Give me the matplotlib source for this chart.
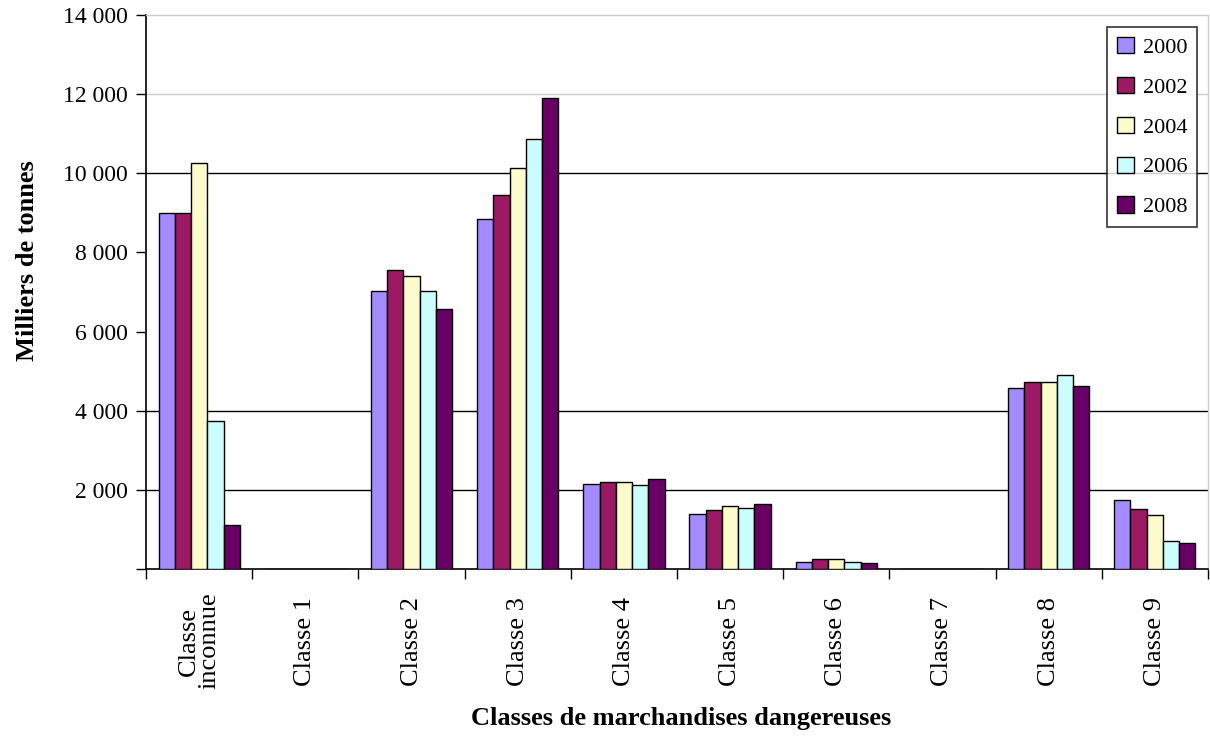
import numpy as np
import matplotlib.pyplot as plt
from matplotlib.ticker import FuncFormatter

plt.rcParams['font.family'] = ['Liberation Serif', 'DejaVu Serif']

# Data (milliers de tonnes)
categories = ["Classe\ninconnue", "Classe 1", "Classe 2", "Classe 3", "Classe 4",
              "Classe 5", "Classe 6", "Classe 7", "Classe 8", "Classe 9"]
years = ["2000", "2002", "2004", "2006", "2008"]
v2000 = [9000, 0, 7020, 8850, 2150, 1390, 180, 0, 4560, 1750]
v2002 = [9000, 0, 7550, 9450, 2200, 1490, 240, 0, 4730, 1520]
v2004 = [10250, 0, 7400, 10140, 2200, 1580, 240, 0, 4730, 1370]
v2006 = [3730, 0, 7020, 10860, 2130, 1530, 180, 0, 4890, 700]
v2008 = [1110, 0, 6580, 11890, 2260, 1640, 140, 0, 4630, 650]
series = [v2000, v2002, v2004, v2006, v2008]
colors = ['#A48BFF', '#9C1A64', '#FBFBCC', '#CCFDFD', '#690066']

fig = plt.figure(figsize=(12.1, 7.46), dpi=100)
ax = fig.add_axes([0.1207, 0.2374, 0.8776, 0.7425])

x = np.arange(len(categories))
bw = 0.153
for i, (vals, col, yr) in enumerate(zip(series, colors, years)):
    ax.bar(x + (i - 2) * bw, vals, width=bw, color=col, edgecolor='black',
           linewidth=1.0, label=yr, zorder=3)

# gridlines as they appear in the picture
for g in [2000, 4000, 10000]:
    ax.axhline(g, color='black', linewidth=1.0, zorder=1)
ax.axhline(12000, color='#cccccc', linewidth=1.0, zorder=1)

ax.set_xlim(-0.5, len(categories) - 0.5)
ax.set_ylim(0, 14000)
ax.set_yticks(np.arange(0, 14001, 2000))
ax.yaxis.set_major_formatter(FuncFormatter(
    lambda v, p: "" if v == 0 else "{:,.0f}".format(v).replace(",", " ")))
ax.tick_params(axis='y', direction='out', length=7, width=1, labelsize=17, pad=6)

ax.set_xticks(x)
ax.set_xticklabels(categories, rotation=90, fontsize=19, va='center', ha='center',
                   multialignment='center', linespacing=0.95)
ax.tick_params(axis='x', which='major', length=0, pad=52)
ax.set_xticks(np.arange(-0.5, len(categories)), minor=True)
ax.tick_params(axis='x', which='minor', direction='out', length=7, width=1)

for s in ['left', 'bottom']:
    ax.spines[s].set_color('black')
    ax.spines[s].set_linewidth(1.2)
for s in ['top', 'right']:
    ax.spines[s].set_color('#cccccc')
    ax.spines[s].set_linewidth(1.0)

fig.text(0.023, 0.651, "Milliers de tonnes", fontsize=19, fontweight='bold',
         rotation=90, ha='center', va='center')
fig.text(0.563, 0.021, "Classes de marchandises dangereuses", fontsize=19,
         fontweight='bold', ha='center', va='bottom')

leg = ax.legend(loc='upper right', bbox_to_anchor=(0.99, 0.978), fontsize=16,
                frameon=True, fancybox=False, edgecolor='black',
                handlelength=0.75, handleheight=0.75, handletextpad=0.4,
                labelspacing=0.85, borderpad=0.45, borderaxespad=0)
leg.get_frame().set_linewidth(1.2)

fig.savefig("out.png", dpi=100)
